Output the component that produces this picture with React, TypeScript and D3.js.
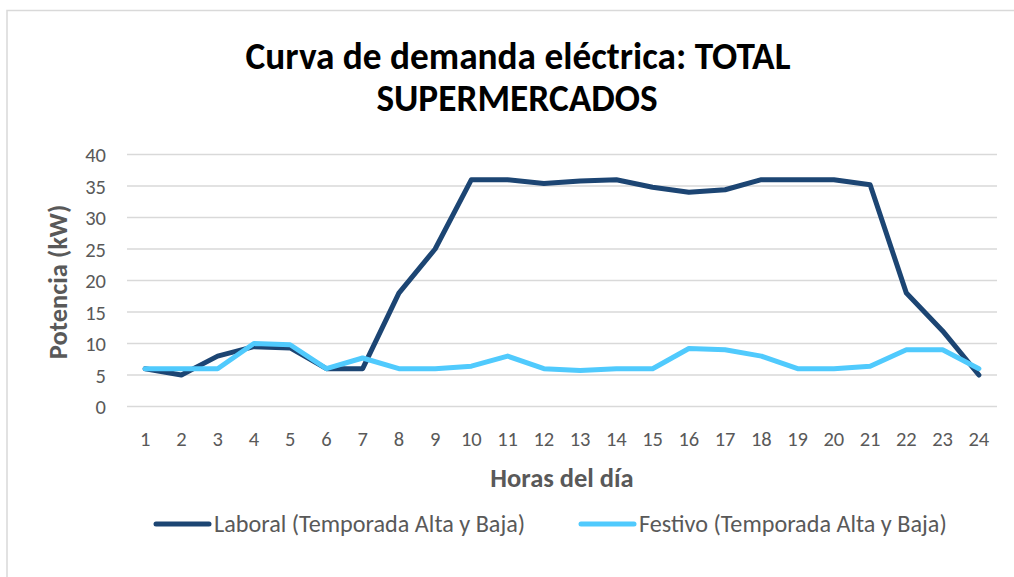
import React from 'react';
import * as d3 from 'd3';

const hours = ['1', '2', '3', '4', '5', '6', '7', '8', '9', '10', '11', '12', '13', '14', '15', '16', '17', '18', '19', '20', '21', '22', '23', '24'];
const laboral = [6, 5, 8, 9.5, 9.3, 6, 6, 18, 25, 36, 36, 35.4, 35.8, 36, 34.8, 34, 34.4, 36, 36, 36, 35.2, 18, 12, 5];
const festivo = [6, 6, 6, 10, 9.8, 6, 7.7, 6, 6, 6.4, 8, 6, 5.7, 6, 6, 9.2, 9, 8, 6, 6, 6.4, 9, 9, 6];
const yTicks = [0, 5, 10, 15, 20, 25, 30, 35, 40];

const seriesNames = ['Laboral (Temporada Alta y Baja)', 'Festivo (Temporada Alta y Baja)'];
const colors = ['#1C4573', '#50CAFD'];

const W = 1014, H = 577;
const FONT = 'Carlito, Calibri, Lato, sans-serif';

export default function App() {
  const x = d3.scaleBand().domain(hours).range([127, 997]);
  const y = d3.scaleLinear().domain([0, 40]).range([406.5, 154.5]);
  const cx = (h: string) => (x(h) as number) + x.bandwidth() / 2;

  const line = d3.line<number>()
    .x((_, i) => cx(hours[i]))
    .y(d => y(d));

  return (
    <svg width={W} height={H} style={{ position: 'absolute', left: 0, top: 0 }} fontFamily={FONT}>
      <rect x={0} y={0} width={W} height={H} fill="#fff" />
      <rect x={7} y={10.5} width={W + 20} height={H + 20} fill="none" stroke="#d9d9d9" strokeWidth={1.5} />

      <text x={518} y={69} textAnchor="middle" fontSize={37.3} fontWeight="bold" fill="#000">Curva de demanda eléctrica: TOTAL</text>
      <text x={517} y={111} textAnchor="middle" fontSize={37.3} fontWeight="bold" fill="#000">SUPERMERCADOS</text>

      {/* gridlines + y labels */}
      {yTicks.map(t => (
        <g key={t}>
          <line x1={127} x2={997} y1={y(t)} y2={y(t)} stroke="#d9d9d9" strokeWidth={1.5} />
          <text x={106} y={y(t) + 7.5} textAnchor="end" fontSize={20.5} fill="#595959">{t}</text>
        </g>
      ))}

      {/* x labels */}
      {hours.map(h => (
        <text key={h} x={cx(h)} y={446} textAnchor="middle" fontSize={20.5} fill="#595959">{h}</text>
      ))}

      <text x={562} y={487} textAnchor="middle" fontSize={26.5} fontWeight="bold" fill="#595959">Horas del día</text>
      <text transform={`translate(67,282) rotate(-90)`} textAnchor="middle" fontSize={26.5} fontWeight="bold" fill="#595959">Potencia (kW)</text>

      {[laboral, festivo].map((s, i) => (
        <path key={i} d={line(s) || ''} fill="none" stroke={colors[i]} strokeWidth={5} strokeLinejoin="round" strokeLinecap="round" />
      ))}

      {/* legend */}
      {seriesNames.map((n, i) => {
        const lx = i === 0 ? 156 : 581;
        return (
          <g key={n}>
            <line x1={lx} x2={lx + 53} y1={524} y2={524} stroke={colors[i]} strokeWidth={5} strokeLinecap="round" />
            <text x={lx + 58} y={532} fontSize={24.2} fill="#595959">{n}</text>
          </g>
        );
      })}
    </svg>
  );
}
